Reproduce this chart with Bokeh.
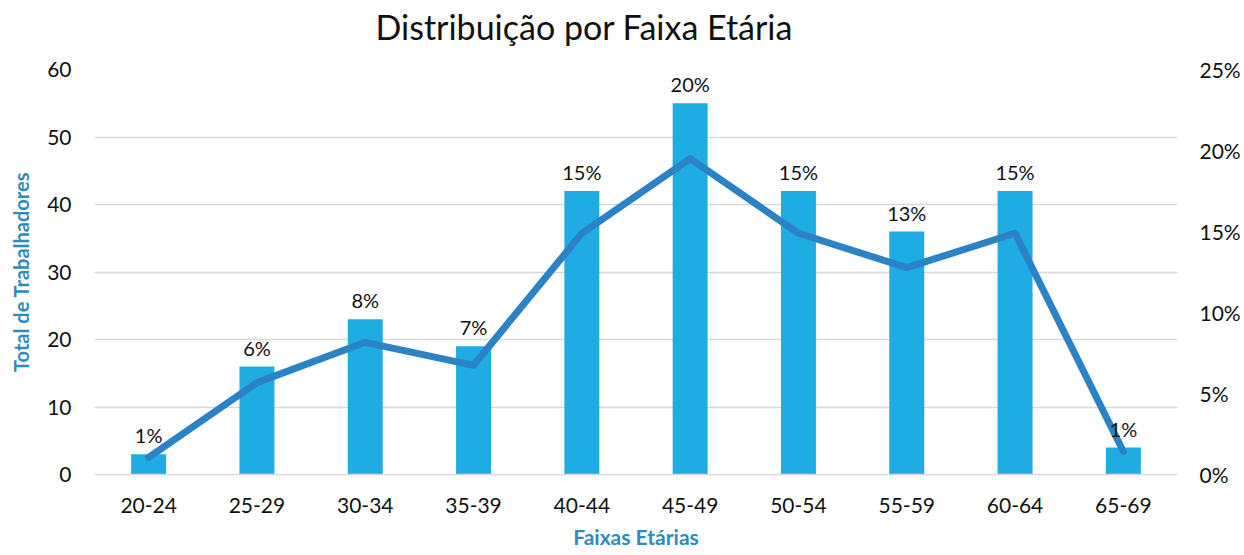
from bokeh.plotting import figure
from bokeh.models import Range1d, LinearAxis, SingleIntervalTicker, PrintfTickFormatter, ColumnDataSource, LabelSet, Title
from bokeh.core.properties import value
from bokeh.embed import file_html
from bokeh.resources import INLINE

categories = ["20-24", "25-29", "30-34", "35-39", "40-44", "45-49", "50-54", "55-59", "60-64", "65-69"]
workers = [3, 16, 23, 19, 42, 55, 42, 36, 42, 4]
percent = [1.06, 5.67, 8.16, 6.74, 14.89, 19.50, 14.89, 12.77, 14.89, 1.42]
percent_labels = ["1%", "6%", "8%", "7%", "15%", "20%", "15%", "13%", "15%", "1%"]
title_text = "Distribuição por Faixa Etária"

FONT = "Lato"
AXIS_COLOR = "#2E8BC0"

src = ColumnDataSource(dict(cat=categories, n=workers, pct=percent, lab=percent_labels))

p = figure(x_range=categories, y_range=Range1d(0, 60), width=1244, height=555, title=None,
           output_backend="svg", toolbar_location=None,
           min_border_left=94, min_border_right=67, min_border_top=69, min_border_bottom=81)
p.extra_y_ranges = {"pct": Range1d(0, 25)}

# spacer between the frame and the title
p.add_layout(Title(text=" ", text_font=FONT, text_font_size="10px", standoff=7), "above")
p.add_layout(Title(text=title_text, text_font=FONT, text_font_size="34px", text_font_style="normal",
                   text_color="#111111", align="left", offset=281, standoff=4), "above")

p.outline_line_color = None
p.xgrid.grid_line_color = None
p.ygrid.grid_line_color = "#D9D9D9"
p.ygrid.grid_line_width = 1.5

p.vbar(x="cat", top="n", width=0.323, source=src, fill_color="#1EACE3", line_color=None)
p.line(x="cat", y="pct", source=src, y_range_name="pct", line_color="#2B83C6", line_width=7,
       line_join="round", line_cap="round")

labels = LabelSet(x="cat", y="n", text="lab", source=src, y_offset=7, text_align="center",
                  text_baseline="bottom", text_font=value(FONT), text_font_size=value("20px"),
                  text_color="#111111")
p.add_layout(labels)

def style_ticks(ax):
    ax.major_tick_line_color = None
    ax.minor_tick_line_color = None
    ax.major_tick_out = 0
    ax.major_tick_in = 0
    ax.minor_tick_out = 0
    ax.minor_tick_in = 0
    ax.major_label_text_font = FONT
    ax.major_label_text_font_size = "21px"
    ax.major_label_text_color = "#111111"

# left axis
ya = p.yaxis[0]
ya.ticker = SingleIntervalTicker(interval=10)
ya.axis_line_color = None
style_ticks(ya)
ya.major_label_standoff = 23
ya.axis_label = "Total de Trabalhadores"
ya.axis_label_text_font = FONT
ya.axis_label_text_font_size = "20px"
ya.axis_label_text_font_style = "bold"
ya.axis_label_text_color = AXIS_COLOR
ya.axis_label_standoff = 11

# right axis
ra = LinearAxis(y_range_name="pct", ticker=SingleIntervalTicker(interval=5),
                formatter=PrintfTickFormatter(format="%d%%"))
ra.axis_line_color = None
style_ticks(ra)
ra.major_label_standoff = 22
p.add_layout(ra, "right")

# bottom axis
xa = p.xaxis[0]
xa.axis_line_color = "#D9D9D9"
xa.axis_line_width = 1.5
style_ticks(xa)
xa.major_label_standoff = 23
xa.axis_label = "Faixas Etárias"
xa.axis_label_text_font = FONT
xa.axis_label_text_font_size = "21px"
xa.axis_label_text_font_style = "bold"
xa.axis_label_text_color = AXIS_COLOR
xa.axis_label_standoff = 8

open("out.html", "w").write(file_html(p, INLINE))
